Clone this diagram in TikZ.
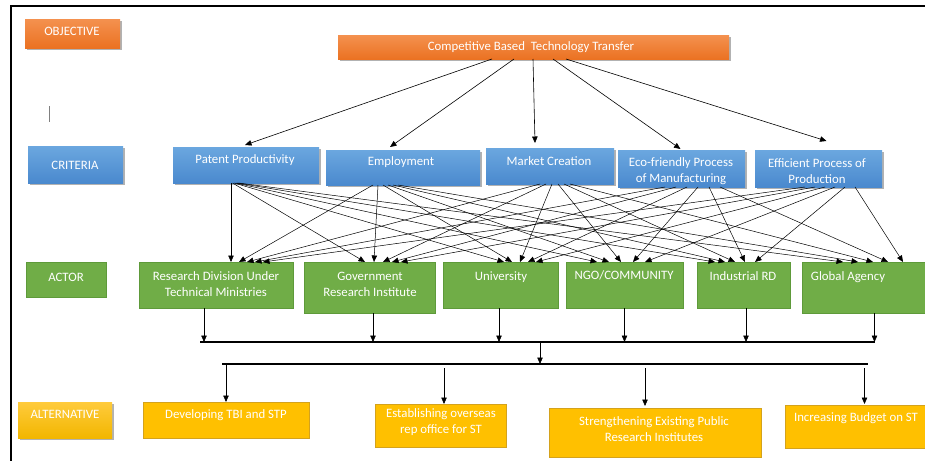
\documentclass[tikz,border=0pt]{standalone}
\usepackage{fontspec}
\setmainfont{Carlito}
\usetikzlibrary{arrows.meta,shadows}
\definecolor{orgT}{HTML}{F4914F}
\definecolor{orgB}{HTML}{EB7222}
\definecolor{bluT}{HTML}{6BA7DF}
\definecolor{bluB}{HTML}{4A89CE}
\definecolor{grn}{HTML}{70AD47}
\definecolor{grnD}{HTML}{5E9A3A}
\definecolor{gld}{HTML}{FFC000}
\definecolor{gldD}{HTML}{D4A21C}
\definecolor{gldT}{HTML}{FFCB3C}
\definecolor{gldB}{HTML}{F2B600}
\begin{document}
\begin{tikzpicture}[x=1pt,y=-1pt,
  box/.style={rectangle,inner sep=0pt,outer sep=0pt,anchor=north west},
  shad/.style={drop shadow={shadow xshift=1.5pt,shadow yshift=-2pt,opacity=0.3,fill=black}},
  orgbox/.style={box,shad,top color=orgT,bottom color=orgB,draw=none},
  blubox/.style={box,shad,top color=bluT,bottom color=bluB,draw=none},
  grnbox/.style={box,fill=grn,draw=grnD,line width=0.8pt},
  gldbox/.style={box,fill=gld,draw=gldD,line width=0.8pt},
  gldlab/.style={box,shad,top color=gldT,bottom color=gldB,draw=none},
  txt/.style={text=white,font=\fontsize{12.8}{16}\selectfont,align=center,inner sep=0pt},
  arr/.style={line width=0.6pt,-{Triangle[length=6.5pt,width=5.5pt]}},
  bus/.style={line width=1.1pt}]
\useasboundingbox (0,0) rectangle (925,461);
% frame
\draw[line width=2pt] (925,6) -- (11,6) -- (11,461);
\draw[gray,line width=0.8pt] (49,106) -- (49,122);
% level labels
\node[orgbox,minimum width=95pt,minimum height=29pt] (lobj) at (25,19) {};
\node[txt] (lobjt) at (72,31) {OBJECTIVE};
\node[blubox,minimum width=95pt,minimum height=37pt] (lcri) at (28,146) {};
\node[txt] (lcrit) at (75,165) {CRITERIA};
\node[grnbox,minimum width=80pt,minimum height=35pt] (lact) at (26,262) {};
\node[txt] (lactt) at (66,277) {ACTOR};
\node[gldlab,minimum width=94pt,minimum height=36pt] (lalt) at (18,402) {};
\node[txt] (laltt) at (65,414) {ALTERNATIVE};
% objective
\node[orgbox,minimum width=391pt,minimum height=24pt] (top) at (338,35) {};
\node[txt] (topt) at (531,47) {Competitive Based\ \ Technology Transfer};
% criteria
\node[blubox,minimum width=146pt,minimum height=36pt] (c1) at (173,147) {};
\node[txt] (c1t) at (245,160) {Patent Productivity};
\node[blubox,minimum width=154pt,minimum height=35pt] (c2) at (326,150) {};
\node[txt] (c2t) at (401,162) {Employment};
\node[blubox,minimum width=128pt,minimum height=36pt] (c3) at (486,148) {};
\node[txt] (c3t) at (549,161) {Market Creation};
\node[blubox,minimum width=127pt,minimum height=37pt] (c4) at (618,150) {};
\node[txt] (c4t) at (681,171) {Eco-friendly Process\\of Manufacturing};
\node[blubox,minimum width=127pt,minimum height=37pt] (c5) at (755,150) {};
\node[txt] (c5t) at (817,171) {Efficient Process of\\Production};
% actors
\node[grnbox,minimum width=154pt,minimum height=46pt] (a1) at (139,262) {};
\node[txt] (a1t) at (216,284) {Research Division Under\\Technical Ministries};
\node[grnbox,minimum width=131pt,minimum height=51pt] (a2) at (304,262) {};
\node[txt] (a2t) at (370,284) {Government\\Research Institute};
\node[grnbox,minimum width=115pt,minimum height=46pt] (a3) at (443,262) {};
\node[txt] (a3t) at (501,277) {University};
\node[grnbox,minimum width=117pt,minimum height=46pt] (a4) at (566,262) {};
\node[txt] (a4t) at (624,275) {NGO/COMMUNITY};
\node[grnbox,minimum width=93pt,minimum height=46pt] (a5) at (697,262) {};
\node[txt] (a5t) at (743,276) {Industrial RD};
\node[grnbox,minimum width=124pt,minimum height=51pt] (a6) at (802,262) {};
\node[txt] (a6t) at (848,277) {Global Agency};
% alternatives
\node[gldbox,minimum width=166pt,minimum height=36pt] (t1) at (143,402) {};
\node[txt] (t1t) at (226,415) {Developing TBI and STP};
\node[gldbox,minimum width=131pt,minimum height=43pt] (t2) at (375,404) {};
\node[txt] (t2t) at (441,422) {Establishing overseas\\rep office for ST};
\node[gldbox,minimum width=212pt,minimum height=49pt] (t3) at (549,408) {};
\node[txt] (t3t) at (654,429) {Strengthening Existing Public\\Research Institutes};
\node[gldbox,minimum width=141pt,minimum height=43pt] (t4) at (785,405) {};
\node[txt] (t4t) at (856,418) {Increasing Budget on ST};
% objective -> criteria
\draw[arr] ([xshift=-41.5pt]top.south) -- ([xshift=-1pt,yshift=2pt]c1.north);
\draw[arr] ([xshift=-19.5pt]top.south) -- ([xshift=-13pt,yshift=3pt]c2.north);
\draw[arr] ([xshift=-0.5pt]top.south) -- ([xshift=-15pt,yshift=5pt]c3.north);
\draw[arr] ([xshift=19.5pt]top.south) -- ([xshift=-1pt,yshift=1pt]c4.north);
\draw[arr] ([xshift=32.5pt]top.south) -- ([xshift=8pt,yshift=9pt]c5.north);
% criteria -> actors
\foreach \c/\sb/\sd/\sl in {1/231/1.5/173, 2/373/5/326, 3/540/6/486, 4/665/11/618, 5/805/10/755} {
  \foreach \a/\eb/\ed/\el in {1/231/8/139, 2/365/9/304, 3/504/8/443, 4/597/12/566, 5/715/10/697, 6/843/15/802} {
    \pgfmathsetmacro\sx{\sb+(\a-1)*\sd-\sl}
    \pgfmathsetmacro\ex{\eb+(\c-1)*\ed-\el}
    \draw[arr,line width=0.5pt] ([xshift=\sx pt]c\c.south west) -- ([xshift=\ex pt]a\a.north west);
  }
}
% actors -> bus
\coordinate (bl) at (200,342);
\coordinate (br) at (875,342);
\draw[bus] (bl) -- (br);
\draw[arr] ([xshift=-12pt]a1.south) -- ([xshift=-12pt]a1.south |- bl);
\draw[arr] ([xshift=3.5pt]a2.south) -- ([xshift=3.5pt]a2.south |- bl);
\draw[arr] ([xshift=-1.5pt]a3.south) -- ([xshift=-1.5pt]a3.south |- bl);
\draw[arr] (a4.south) -- (a4.south |- bl);
\draw[arr] ([xshift=2.5pt]a5.south) -- ([xshift=2.5pt]a5.south |- bl);
\draw[arr] ([xshift=10.5pt]a6.south) -- ([xshift=10.5pt]a6.south |- bl);
% bus -> bus
\coordinate (bm) at (540,342);
\coordinate (bl2) at (222,364);
\coordinate (br2) at (868,364);
\draw[bus] (bl2) -- (br2);
\draw[arr] (bm) -- (bm |- bl2);
% bus -> alternatives
\draw[arr] (t1.north |- bl2) -- (t1.north);
\draw[arr] ([xshift=3.5pt,yshift=-4pt]t2.north |- bl2) -- ([xshift=3.5pt]t2.north);
\draw[arr] ([xshift=-10pt,yshift=-4pt]t3.north |- bl2) -- ([xshift=-10pt,yshift=2pt]t3.north);
\draw[arr] ([xshift=9pt,yshift=-4pt]t4.north |- bl2) -- ([xshift=9pt,yshift=1pt]t4.north);
\end{tikzpicture}
\end{document}
